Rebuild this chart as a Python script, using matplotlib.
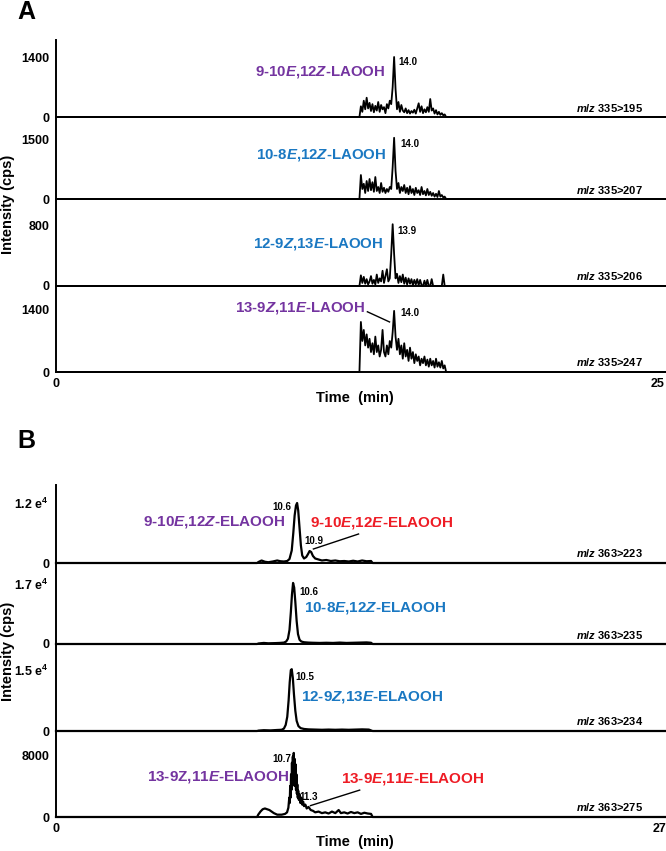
import numpy as np
import matplotlib
matplotlib.use('Agg')
import matplotlib.pyplot as plt

plt.rcParams['font.family'] = ['Liberation Sans', 'DejaVu Sans']
plt.rcParams['font.weight'] = 'bold'
plt.rcParams['mathtext.fontset'] = 'custom'
plt.rcParams['mathtext.rm'] = 'Liberation Sans:bold'
plt.rcParams['mathtext.it'] = 'Liberation Sans:italic:bold'
plt.rcParams['mathtext.bf'] = 'Liberation Sans:bold'

# ---------------- Panel A data (LAOOH, x axis 0-25 min) ----------------
a_time = np.round(np.arange(12.60, 16.201, 0.06), 2)   # 61 sample times
a_195 = [0, 250, 120, 380, 180, 450, 200, 330, 140, 300, 110, 260, 150, 350, 120, 280,
         180, 230, 90, 300, 200, 380, 300, 700, 1400, 650, 180, 350, 120, 280, 150, 110,
         200, 90, 160, 80, 140, 100, 170, 80, 200, 320, 120, 250, 90, 180, 110, 230,
         120, 420, 150, 200, 80, 160, 60, 120, 50, 90, 40, 60, 0]
a_207 = [0, 600, 250, 380, 150, 450, 200, 500, 220, 420, 180, 550, 200, 300, 150, 400,
         180, 280, 150, 250, 180, 300, 250, 800, 1530, 700, 250, 400, 150, 300, 200, 350,
         150, 280, 120, 320, 150, 250, 100, 280, 150, 220, 100, 300, 120, 200, 90, 250,
         100, 180, 80, 150, 60, 130, 50, 200, 60, 100, 40, 60, 0]
a_206 = [0, 140, 40, 120, 30, 90, 20, 60, 130, 30, 80, 20, 150, 40, 100, 60,
         200, 40, 130, 220, 60, 100, 420, 810, 420, 100, 160, 40, 130, 50, 150, 30,
         110, 20, 100, 30, 90, 10, 80, 20, 90, 10, 80, 10, 0, 70, 0, 80,
         0, 0, 90, 0, 0, 0, 0, 0, 0, 0, 150, 0, 0]
a_247 = [0, 1130, 700, 950, 600, 850, 550, 750, 450, 650, 400, 800, 450, 600, 350, 500,
         950, 450, 350, 600, 400, 700, 550, 900, 1380, 800, 500, 750, 400, 600, 300, 650,
         350, 500, 250, 550, 300, 450, 200, 400, 250, 350, 150, 300, 200, 350, 150, 280,
         120, 300, 150, 250, 100, 300, 120, 220, 100, 250, 80, 150, 0]
a_series = [a_195, a_207, a_206, a_247]
a_xmax = 25.33
a_xticks = [0, 25]
a_yticks = [1400, 1500, 800, 1400]
a_ylabels = ['1400', '1500', '800', '1400']
a_mz = ['335>195', '335>207', '335>206', '335>247']
a_names = [r'9-10$\mathit{E}$,12$\mathit{Z}$-LAOOH', r'10-8$\mathit{E}$,12$\mathit{Z}$-LAOOH',
           r'12-9$\mathit{Z}$,13$\mathit{E}$-LAOOH', r'13-9$\mathit{Z}$,11$\mathit{E}$-LAOOH']
a_peaks = ['14.0', '14.0', '13.9', '14.0']

# ---------------- Panel B data (ELAOOH, x axis 0-27 min) ----------------
b1_t = [9.00, 9.06, 9.2, 9.35, 9.5, 9.7, 9.9, 10.05, 10.2, 10.35, 10.45, 10.55, 10.62, 10.68,
        10.74, 10.79, 10.84, 10.90, 10.96, 11.02, 11.10, 11.20, 11.28, 11.35, 11.42, 11.50,
        11.60, 11.75, 11.9, 12.1, 12.3, 12.5, 12.7, 12.9, 13.1, 13.3, 13.5, 13.7, 13.9, 14.1, 14.17]
b1_v = [0, 200, 500, 250, 150, 300, 500, 350, 300, 400, 800, 2500, 6000, 9500,
        11500, 12000, 10500, 7000, 3500, 1500, 900, 1200, 1800, 2400, 2200, 1400,
        900, 700, 500, 600, 400, 500, 350, 400, 300, 450, 300, 500, 350, 400, 0]
b2_t = [9.00, 9.06, 9.3, 9.5, 9.8, 10.0, 10.2, 10.3, 10.38, 10.45, 10.51, 10.56, 10.61, 10.66,
        10.71, 10.77, 10.83, 10.90, 10.98, 11.1, 11.3, 11.5, 11.8, 12.1, 12.4, 12.7, 13.0,
        13.3, 13.6, 13.9, 14.1, 14.17]
b2_v = [0, 150, 300, 200, 250, 300, 400, 700, 1500, 4000, 9000, 14000, 17300, 16000,
        12000, 6500, 2800, 1200, 700, 500, 400, 350, 300, 350, 300, 400, 300,
        350, 400, 450, 350, 0]
b3_t = [9.00, 9.06, 9.3, 9.6, 9.9, 10.1, 10.2, 10.28, 10.35, 10.41, 10.46, 10.51, 10.55, 10.60,
        10.65, 10.71, 10.77, 10.85, 10.95, 11.1, 11.3, 11.6, 11.9, 12.2, 12.5, 12.8, 13.1,
        13.4, 13.7, 14.0, 14.17]
b3_v = [0, 100, 200, 150, 250, 300, 600, 1500, 3500, 7500, 12000, 15000, 15200, 13000,
        9000, 5000, 2500, 1200, 700, 500, 400, 350, 300, 350, 300, 350, 300,
        350, 400, 350, 0]
b4_t = [9.00, 9.05, 9.15, 9.25, 9.35, 9.45, 9.55, 9.65, 9.75, 9.9, 10.1, 10.25, 10.34, 10.40,
        10.44, 10.46, 10.48, 10.50, 10.52, 10.54, 10.56, 10.58, 10.60, 10.62, 10.64, 10.66,
        10.68, 10.70, 10.72, 10.74, 10.76, 10.78, 10.80, 10.82, 10.84, 10.87, 10.90, 10.94,
        10.98, 11.02, 11.06, 11.10, 11.16, 11.22, 11.3, 11.4,
        11.5, 11.6, 11.75, 11.9, 12.05, 12.2, 12.35, 12.5, 12.65, 12.75, 12.9, 13.05, 13.2,
        13.35, 13.5, 13.65, 13.8, 13.95, 14.1, 14.17]
b4_v = [0, 300, 700, 1000, 1100, 1000, 900, 700, 500, 300, 300, 400, 600, 1200,
        2500, 1800, 4000, 2500, 5500, 3500, 7000, 4000, 7800, 4500, 8270, 4800,
        7500, 4000, 6800, 3500, 5500, 3000, 4200, 2500, 3400, 2200, 2900, 1800,
        2500, 1600, 2000, 1400, 1600, 1100, 1300, 900,
        800, 600, 700, 500, 600, 450, 700, 500, 900, 500, 600, 450, 650,
        500, 600, 400, 550, 450, 400, 0]
b_times = [b1_t, b2_t, b3_t, b4_t]
b_series = [b1_v, b2_v, b3_v, b4_v]
b_xmax = 27.30
b_xticks = [0, 27]
b_yticks = [12000, 17000, 15000, 8000]
b_ylabels = [r'1.2 e$^{4}$', r'1.7 e$^{4}$', r'1.5 e$^{4}$', '8000']
b_mz = ['363>223', '363>235', '363>234', '363>275']
b_names = [r'9-10$\mathit{E}$,12$\mathit{Z}$-ELAOOH', r'10-8$\mathit{E}$,12$\mathit{Z}$-ELAOOH',
           r'12-9$\mathit{Z}$,13$\mathit{E}$-ELAOOH', r'13-9Z,11$\mathit{E}$-ELAOOH']
b_minor_names = [r'9-10$\mathit{E}$,12$\mathit{E}$-ELAOOH', r'13-9$\mathit{E}$,11$\mathit{E}$-ELAOOH']
b_peaks = ['10.6', '10.6', '10.5', '10.7']
b_minor_peaks = ['10.9', '11.3']

PURPLE = '#7434A0'
BLUE = '#1A78C2'
RED = '#EE1C25'

NAME_FS = 10.8
TICK_FS = 9
PEAK_FS = 7
MZ_FS = 8
MZ_PREFIX = r'$\mathit{m}$/$\mathit{z}$ '

W, H = 666, 851
fig = plt.figure(figsize=(W / 100, H / 100), dpi=100)


def fx(x):
    return x / W


def fy(y):
    return 1 - y / H


def ptext(x, y, s, ha='left', va='center', **kw):
    fig.text(fx(x), fy(y), s, ha=ha, va=va, **kw)


def make_panel(bounds, xmax, yticks, ylabels, xticks):
    axes = []
    for i, (top, bot) in enumerate(bounds):
        ax = fig.add_axes([fx(56), fy(bot), 1 - fx(56), (bot - top) / H])
        tick_px = bot - [60, 60, 61, 62][i]
        ax.set_xlim(0, xmax)
        ax.set_ylim(0, yticks[i] * (bot - top) / (bot - tick_px))
        for s in ['top', 'right']:
            ax.spines[s].set_visible(False)
        for s in ['left', 'bottom']:
            ax.spines[s].set_linewidth(1.4)
        ax.set_yticks([0, yticks[i]])
        ax.set_yticklabels(['0', ylabels[i]])
        ax.tick_params(length=0, pad=5, labelsize=TICK_FS)
        if i == len(bounds) - 1:
            ax.set_xticks(xticks)
            ax.set_xticklabels([str(t) for t in xticks])
            ax.tick_params(axis='x', pad=4)
        else:
            ax.set_xticks([])
        ax.patch.set_alpha(0)
        axes.append(ax)
    return axes


# ---------- Panel A ----------
a_bounds = [(40, 117), (117, 199), (199, 286), (286, 372)]
axA = make_panel(a_bounds, a_xmax, a_yticks, a_ylabels, a_xticks)
for ax, vals in zip(axA, a_series):
    t = np.concatenate([[0], a_time, [a_xmax]])
    v = np.concatenate([[0], vals, [0]])
    ax.plot(t, v, color='black', lw=1.3, clip_on=False)

# leader line for 13-9Z,11E-LAOOH
axA[3].plot([12.93, 13.85], [1360, 1130], color='black', lw=1.0, clip_on=False)

a_name_pos = [(255, 72), (256, 155), (253, 244), (235, 308)]
a_name_col = [PURPLE, BLUE, BLUE, PURPLE]
a_peak_pos = [(398, 62), (400, 144), (397, 231), (400, 313)]
a_mz_y = [108, 190, 276, 362]
for i in range(4):
    ptext(*a_name_pos[i], a_names[i], color=a_name_col[i], fontsize=NAME_FS, fontweight='bold')
    ptext(*a_peak_pos[i], a_peaks[i], fontsize=PEAK_FS, fontweight='bold')
    ptext(643, a_mz_y[i], MZ_PREFIX + a_mz[i], ha='right', fontsize=MZ_FS, fontweight='bold')

ptext(26, 12, 'A', ha='center', fontsize=18, fontweight='bold')
ptext(355, 398, 'Time  (min)', ha='center', fontsize=10.5, fontweight='bold')
ptext(8, 204, 'Intensity (cps)', ha='center', rotation=90, fontsize=10.5, fontweight='bold')

# ---------- Panel B ----------
b_bounds = [(485, 563), (563, 644), (644, 731), (731, 817)]
axB = make_panel(b_bounds, b_xmax, b_yticks, b_ylabels, b_xticks)
for ax, tt, vals in zip(axB, b_times, b_series):
    t = np.concatenate([[0], tt, [b_xmax]])
    v = np.concatenate([[0], vals, [0]])
    ax.plot(t, v, color='black', lw=1.6, clip_on=False)

# leader lines to minor peaks
axB[0].plot([11.52, 13.54], [2800, 5800], color='black', lw=1.0, clip_on=False)
axB[3].plot([11.39, 13.59], [1470, 3470], color='black', lw=1.0, clip_on=False)

b_name_pos = [(143, 522), (304, 608), (301, 697), (147, 777)]
b_name_col = [PURPLE, BLUE, BLUE, PURPLE]
b_peak_pos = [(291, 507, 'right'), (299, 592, 'left'), (295, 677, 'left'), (291, 759, 'right')]
b_mz_y = [553, 635, 721, 807]
for i in range(4):
    ptext(*b_name_pos[i], b_names[i], color=b_name_col[i], fontsize=11, fontweight='bold')
    x, y, ha = b_peak_pos[i]
    ptext(x, y, b_peaks[i], ha=ha, fontsize=PEAK_FS, fontweight='bold')
    ptext(643, b_mz_y[i], MZ_PREFIX + b_mz[i], ha='right', fontsize=MZ_FS, fontweight='bold')

ptext(310, 523, b_minor_names[0], color=RED, fontsize=11, fontweight='bold')
ptext(341, 779, b_minor_names[1], color=RED, fontsize=11, fontweight='bold')
ptext(304, 541, b_minor_peaks[0], fontsize=PEAK_FS, fontweight='bold')
ptext(299, 797, b_minor_peaks[1], fontsize=PEAK_FS, fontweight='bold')

ptext(26, 441, 'B', ha='center', fontsize=18, fontweight='bold')
ptext(355, 842, 'Time  (min)', ha='center', fontsize=10.5, fontweight='bold')
ptext(8, 651, 'Intensity (cps)', ha='center', rotation=90, fontsize=10.5, fontweight='bold')

fig.savefig('out.png', dpi=100)
